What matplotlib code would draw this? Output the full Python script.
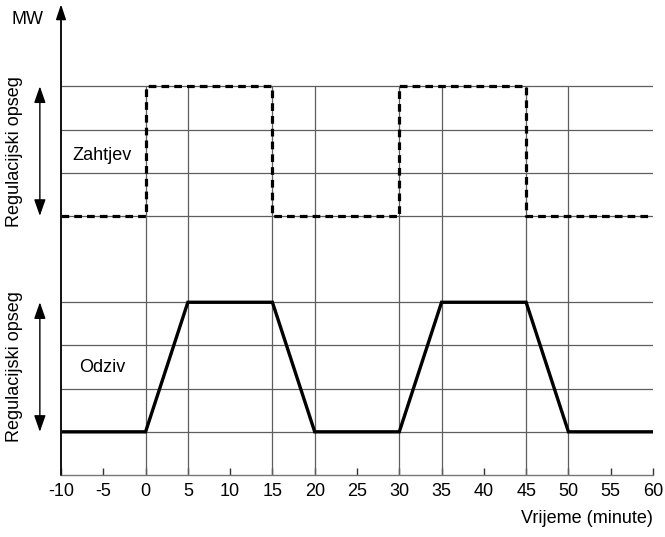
import matplotlib
matplotlib.use("Agg")
import matplotlib.pyplot as plt

plt.rcParams['font.family'] = ['Liberation Sans', 'DejaVu Sans']

# data
t_zahtjev = [-10, 0, 0, 15, 15, 30, 30, 45, 45, 60]
p_zahtjev = [6, 6, 9, 9, 6, 6, 9, 9, 6, 6]
t_odziv = [-10, 0, 5, 15, 20, 30, 35, 45, 50, 60]
p_odziv = [1, 1, 4, 4, 1, 1, 4, 4, 1, 1]
grid_x = [0, 5, 15, 20, 30, 35, 45, 50]
grid_y = [1, 2, 3, 4, 6, 7, 8, 9]
x_ticks = list(range(-10, 65, 5))
x_labels = [str(v) for v in x_ticks]

W, H = 665, 537
fig = plt.figure(figsize=(W / 100, H / 100), dpi=100)
ax = fig.add_axes([61 / W, 62 / H, (653 - 61) / W, 475 / H])
ax.set_xlim(-10, 60)
ax.set_ylim(0, 11)

gc = "#5e5e5e"
ax.hlines(grid_y, -10, 60, color=gc, lw=0.9)
ax.vlines(grid_x, 0, 9, color=gc, lw=0.9)

ax.plot(t_zahtjev, p_zahtjev, color="black", lw=2.3, ls=(0, (2.4, 1.6)))
ax.plot(t_odziv, p_odziv, color="black", lw=2.4, solid_joinstyle="miter")

for s in ["top", "right", "left"]:
    ax.spines[s].set_visible(False)
ax.spines["bottom"].set_color("#777777")
ax.spines["bottom"].set_linewidth(1.0)
ax.set_yticks([])
ax.set_xticks(x_ticks)
ax.set_xticklabels(x_labels, fontsize=13)
ax.tick_params(axis="x", direction="in", length=5, width=1, color="#333333", pad=6)

# y axis with arrow
ax.annotate("", xy=(-10, 10.9), xytext=(-10, 0), xycoords="data",
            arrowprops=dict(arrowstyle="-|>,head_length=0.9,head_width=0.3",
                            color="black", lw=1.2, shrinkA=0, shrinkB=0),
            annotation_clip=False)
ax.plot([-10, -10], [0, 10.5], color="#777777", lw=1.3, clip_on=False)

# double arrows left
x_arr = -12.5
for lo, hi in [(6, 9), (1, 4)]:
    ax.annotate("", xy=(x_arr, hi), xytext=(x_arr, lo),
                arrowprops=dict(arrowstyle="<|-|>,head_length=1.0,head_width=0.35",
                                color="black", lw=1.0, shrinkA=0, shrinkB=0),
                annotation_clip=False)
    ax.text(-15.45, (lo + hi) / 2, "Regulacijski opseg", rotation=90,
            ha="center", va="center", fontsize=13, clip_on=False)

ax.text(-8.7, 7.4, "Zahtjev", ha="left", va="center", fontsize=13)
ax.text(-7.9, 2.5, "Odziv", ha="left", va="center", fontsize=13)
ax.text(-14.0, 10.55, "MW", ha="center", va="center", fontsize=13)
ax.text(60, -1.0, "Vrijeme (minute)", ha="right", va="center", fontsize=13)

fig.savefig("out.png", dpi=100)
